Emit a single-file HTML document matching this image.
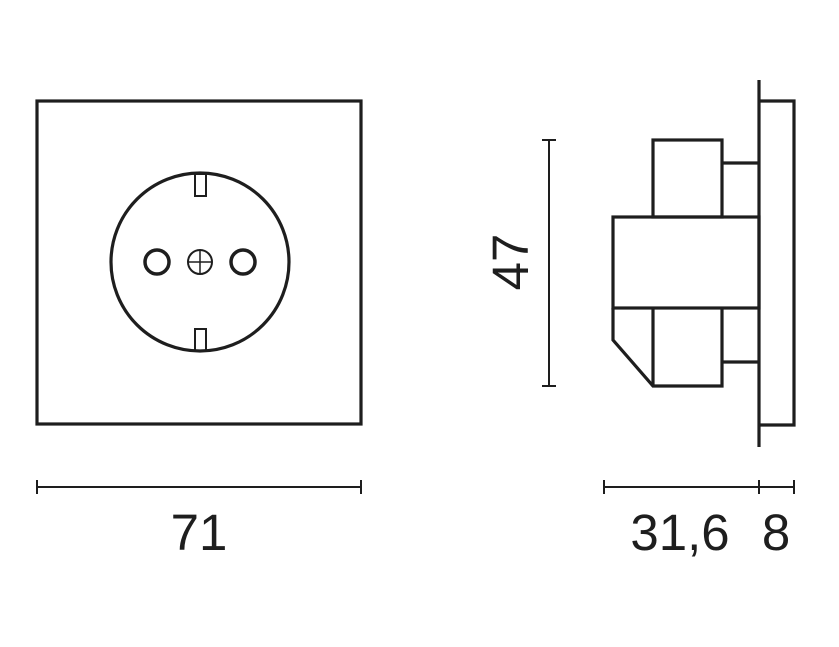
<!DOCTYPE html>
<html><head><style>
html,body{margin:0;padding:0;background:#fff;}
</style></head><body>
<svg width="839" height="642" viewBox="0 0 839 642" xmlns="http://www.w3.org/2000/svg">
<g fill="none" stroke="#1e1e1e" stroke-width="3.2" stroke-linejoin="miter">
<rect x="37" y="101" width="324" height="323"/>
<circle cx="200" cy="262" r="89"/>
<rect x="195" y="174" width="11" height="22" stroke-width="2"/>
<rect x="195" y="329" width="11" height="22" stroke-width="2"/>
<circle cx="157" cy="262" r="12" stroke-width="3.5"/>
<circle cx="243" cy="262" r="12" stroke-width="3.5"/>
<circle cx="200" cy="262" r="12" stroke-width="2"/>
<line x1="188" y1="262" x2="212" y2="262" stroke-width="1.5"/>
<line x1="200" y1="250" x2="200" y2="274" stroke-width="1.5"/>
<line x1="759" y1="80" x2="759" y2="447"/>
<polyline points="759,101 794,101 794,425 759,425"/>
<rect x="653" y="140" width="69" height="77"/>
<line x1="722" y1="163" x2="759" y2="163"/>
<rect x="613" y="217" width="146" height="91"/>
<polyline points="613,308 613,340 653,386 722,386 722,308"/>
<line x1="653" y1="308" x2="653" y2="386"/>
<line x1="722" y1="362" x2="759" y2="362"/>
<g stroke-width="2">
<line x1="37" y1="487" x2="361" y2="487"/>
<line x1="37" y1="480" x2="37" y2="494"/>
<line x1="361" y1="480" x2="361" y2="494"/>
<line x1="604" y1="487" x2="794" y2="487"/>
<line x1="604" y1="480" x2="604" y2="494"/>
<line x1="759" y1="480" x2="759" y2="494"/>
<line x1="794" y1="480" x2="794" y2="494"/>
<line x1="549" y1="140" x2="549" y2="386"/>
<line x1="542" y1="140" x2="556" y2="140"/>
<line x1="542" y1="386" x2="556" y2="386"/>
</g>
</g>
<g font-family="Liberation Sans, sans-serif" font-size="51" fill="#1e1e1e">
<text x="199" y="550" text-anchor="middle">71</text>
<text x="680" y="550" text-anchor="middle">31,6</text>
<text x="776" y="550" text-anchor="middle">8</text>
<text x="0" y="0" text-anchor="middle" transform="translate(528,262) rotate(-90)">47</text>
</g>
</svg>
</body></html>
